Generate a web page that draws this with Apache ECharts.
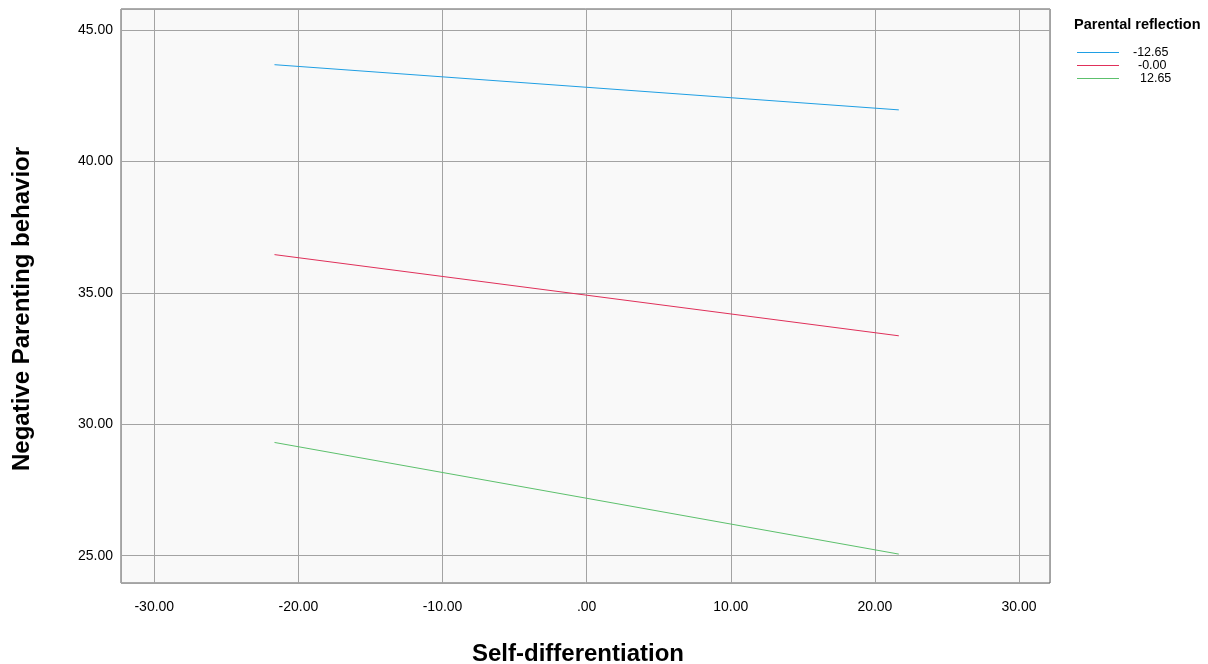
<!DOCTYPE html>
<html>
<head>
<meta charset="utf-8">
<script src="https://cdn.jsdelivr.net/npm/echarts@6/dist/echarts.min.js"></script>
<style>
html,body{margin:0;padding:0;background:#fff;}
#c{width:1208px;height:664px;}
</style>
</head>
<body>
<div id="c"></div>
<script>
// Data
var seriesNames = ['-12.65', '-0.00', '12.65'];
var xPoints = [-21.66, 21.66];
var blueValues = [43.69, 41.97];
var redValues = [36.46, 33.37];
var greenValues = [29.31, 25.06];
var colors = ['#1f9fe4', '#e0305a', '#5cc06c'];
var legendTextOffsets = [9, 14, 16];

function fmt(v) {
  var s = Math.abs(v).toFixed(2);
  if (Math.abs(v) < 1e-9) return '.00';
  return (v < 0 ? '-' : '') + s;
}
function pairs(vals) {
  return xPoints.map(function (x, i) { return [x, vals[i]]; });
}
var allValues = [blueValues, redValues, greenValues];

var font = 'Liberation Sans, Arial, sans-serif';
var legendLines = seriesNames.map(function (n, i) {
  var y = 52.5 + 13 * i;
  return {type: 'line', silent: true,
    shape: {x1: 1077, y1: y, x2: 1119, y2: y},
    style: {stroke: colors[i], lineWidth: 1}};
});

var chart = echarts.init(document.getElementById('c'), null, {renderer: 'canvas'});
chart.setOption({
  animation: false,
  backgroundColor: '#ffffff',
  title: {
    text: 'Parental reflection',
    left: 1069, top: 12,
    textStyle: {fontFamily: font, fontSize: 14.5, fontWeight: 'bold', color: '#000'}
  },
  legend: {
    orient: 'vertical',
    left: 1072, top: 41,
    itemWidth: 42, itemHeight: 2, itemGap: 0,
    icon: 'rect',
    itemStyle: {opacity: 0},
    data: seriesNames.map(function (n, i) {
      return {name: n, itemStyle: {opacity: 0}, textStyle: {padding: [0, 0, 0, legendTextOffsets[i]]}};
    }),
    textStyle: {fontFamily: font, fontSize: 12.5, lineHeight: 13, color: '#000'}
  },
  graphic: [
    {type: 'text', silent: true,
     style: {text: 'Negative Parenting behavior', x: 0, y: 0, fill: '#000',
       font: 'bold 24px ' + font, textAlign: 'center', textVerticalAlign: 'middle'},
     position: [22, 309], rotation: Math.PI / 2},
    {type: 'text', silent: true,
     style: {text: 'Self-differentiation', x: 0, y: 0, fill: '#000',
       font: 'bold 24px ' + font, textAlign: 'center', textVerticalAlign: 'middle'},
     position: [578, 654]}
  ].concat(legendLines),
  grid: {
    left: 121, top: 9, width: 929, height: 574,
    show: true, backgroundColor: '#f9f9f9', borderColor: '#5a5a5a', borderWidth: 1,
    containLabel: false
  },
  xAxis: {
    type: 'value', min: -32.31, max: 32.15, splitNumber: 6,
    minInterval: 10, maxInterval: 10,
    axisLine: {show: false}, axisTick: {show: false},
    axisLabel: {showMinLabel: false, showMaxLabel: false, margin: 17, formatter: fmt,
      fontFamily: font, fontSize: 14, color: '#000'},
    splitLine: {show: true, lineStyle: {color: '#a3a3a3', width: 1}}
  },
  yAxis: {
    type: 'value', min: 23.96, max: 45.81, splitNumber: 4,
    minInterval: 5, maxInterval: 5,
    axisLine: {show: false}, axisTick: {show: false},
    axisLabel: {showMinLabel: false, showMaxLabel: false, margin: 8, formatter: fmt,
      fontFamily: font, fontSize: 14, color: '#000'},
    splitLine: {show: true, lineStyle: {color: '#a3a3a3', width: 1}}
  },
  series: seriesNames.map(function (n, i) {
    return {
      name: n, type: 'line', data: pairs(allValues[i]),
      showSymbol: false, symbol: 'none',
      lineStyle: {color: colors[i], width: 1},
      itemStyle: {color: colors[i]}
    };
  })
});
</script>
</body>
</html>
